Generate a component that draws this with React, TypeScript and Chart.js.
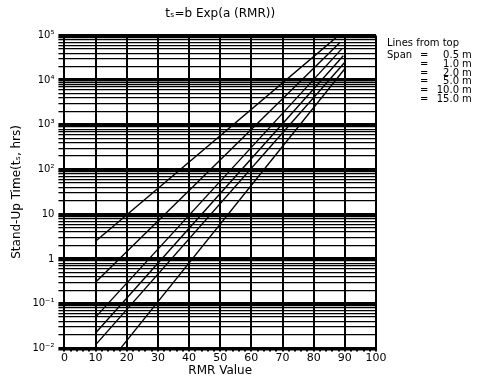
import React, { useEffect, useRef } from "react";
import { Chart, registerables } from "chart.js";

Chart.register(...registerables);

// ---- data ----
const TITLE = "tₛ=b Exp(a (RMR))";
const X_TITLE = "RMR Value";
const Y_TITLE = "Stand-Up Time(tₛ, hrs)";
const X_LABEL_STEP = 10;
const X_MINOR_STEP = 2;
const X_MIN = 0;
const X_MAX = 100;

const DECADES = [-2, -1, 0, 1, 2, 3, 4, 5];
const DECADE_LABELS = ["10⁻²", "10⁻¹", "1", "10", "10²", "10³", "10⁴", "10⁵"];
const MINOR_MULTIPLIERS = [2, 3, 4, 5, 6, 7, 8, 9];

const SPAN_LABELS = ["0.5", "1.0", "2.0", "5.0", "10.0", "15.0"];
const LINE_RMR_START = [10, 10, 10, 10, 10, 18];
const LINE_T_START = [2.5, 0.3, 0.05, 0.022, 0.012, 0.01];
const LINE_RMR_END = [88, 88.5, 89, 89.5, 90, 90];
const LINE_T_END = [1e5, 7e4, 5e4, 3.5e4, 2.5e4, 1.8e4];

const FONT = "'DejaVu Sans', sans-serif";

function buildYTicks(): number[] {
  const out: number[] = [];
  DECADES.forEach((d, i) => {
    out.push(Number(Math.pow(10, d).toPrecision(6)));
    if (i < DECADES.length - 1) {
      MINOR_MULTIPLIERS.forEach((m) => out.push(Number((m * Math.pow(10, d)).toPrecision(6))));
    }
  });
  return out;
}

function decadeIndex(v: number): number {
  const l = Math.log10(v);
  return DECADES.findIndex((d) => Math.abs(l - d) < 1e-9);
}

const legendPlugin = {
  id: "spanLegend",
  afterDraw(chart: any) {
    const { ctx, chartArea } = chart;
    const x0 = chartArea.right + 11;
    const y0 = chartArea.top + 8;
    const lh = 8.8;
    ctx.save();
    ctx.fillStyle = "#000";
    ctx.font = `10px ${FONT}`;
    ctx.textBaseline = "middle";
    ctx.textAlign = "left";
    ctx.fillText("Lines from top", x0, y0);
    ctx.fillText("Span", x0, y0 + 12);
    SPAN_LABELS.forEach((s, i) => {
      const y = y0 + 12 + i * lh;
      ctx.textAlign = "left";
      ctx.fillText("=", x0 + 33, y);
      ctx.textAlign = "right";
      ctx.fillText(s, x0 + 72, y);
      ctx.textAlign = "left";
      ctx.fillText("m", x0 + 75, y);
    });
    ctx.restore();
  },
};

export default function App() {
  const ref = useRef<HTMLCanvasElement | null>(null);

  useEffect(() => {
    if (!ref.current) return;
    const yTicks = buildYTicks();
    const datasets = SPAN_LABELS.map((s, i) => ({
      label: s + " m",
      data: [
        { x: LINE_RMR_START[i], y: LINE_T_START[i] },
        { x: LINE_RMR_END[i], y: LINE_T_END[i] },
      ],
      showLine: true,
      borderColor: "#000",
      borderWidth: 1.4,
      pointRadius: 0,
      fill: false,
    }));

    const chart = new Chart(ref.current, {
      type: "scatter",
      data: { datasets },
      plugins: [legendPlugin],
      options: {
        animation: false,
        responsive: true,
        maintainAspectRatio: false,
        layout: { padding: { left: 10, right: 117, top: 0, bottom: 2 } },
        plugins: {
          legend: { display: false },
          tooltip: { enabled: false },
          title: {
            display: true,
            text: TITLE,
            fullSize: false,
            color: "#000",
            font: { family: FONT, size: 12, weight: "normal" },
            padding: { top: 7, bottom: 14 },
          },
        },
        scales: {
          x: {
            type: "linear",
            min: X_MIN,
            max: X_MAX,
            afterBuildTicks: (scale: any) => {
              const t: any[] = [];
              for (let v = X_MIN; v <= X_MAX; v += X_MINOR_STEP) t.push({ value: v });
              scale.ticks = t;
            },
            ticks: {
              autoSkip: false,
              maxRotation: 0,
              color: "#000",
              font: { family: FONT, size: 11 },
              padding: 0,
              callback: (v: any) => (Number(v) % X_LABEL_STEP === 0 ? String(v) : ""),
            },
            grid: {
              color: (c: any) => (c.tick && c.tick.value % X_LABEL_STEP === 0 ? "#000" : "rgba(0,0,0,0)"),
              lineWidth: 2,
              tickColor: "#000",
              tickLength: 3,
            },
            border: { display: true, color: "#000", width: 2 },
            title: {
              display: true,
              text: X_TITLE,
              color: "#000",
              font: { family: FONT, size: 12 },
              padding: { top: -1, bottom: 0 },
            },
          },
          y: {
            type: "logarithmic",
            min: Math.pow(10, DECADES[0]),
            max: Math.pow(10, DECADES[DECADES.length - 1]),
            afterBuildTicks: (scale: any) => {
              scale.ticks = yTicks.map((v) => ({ value: v }));
            },
            ticks: {
              autoSkip: false,
              color: "#000",
              font: { family: FONT, size: 10 },
              padding: 4,
              callback: (v: any) => {
                const i = decadeIndex(Number(v));
                return i >= 0 ? DECADE_LABELS[i] : "";
              },
            },
            grid: {
              color: "#000",
              lineWidth: (c: any) => (c.tick && decadeIndex(c.tick.value) >= 0 ? 3.5 : 1.3),
              tickColor: "#000",
              tickLength: 6,
            },
            border: { display: true, color: "#000", width: 2 },
            title: {
              display: true,
              text: Y_TITLE,
              color: "#000",
              font: { family: FONT, size: 12 },
              padding: { top: 0, bottom: 4 },
            },
          },
        },
      } as any,
    });
    return () => chart.destroy();
  }, []);

  return (
    <div style={{ position: "fixed", left: 0, top: 0, width: 493, height: 380, background: "#fff" }}>
      <canvas ref={ref} />
    </div>
  );
}
